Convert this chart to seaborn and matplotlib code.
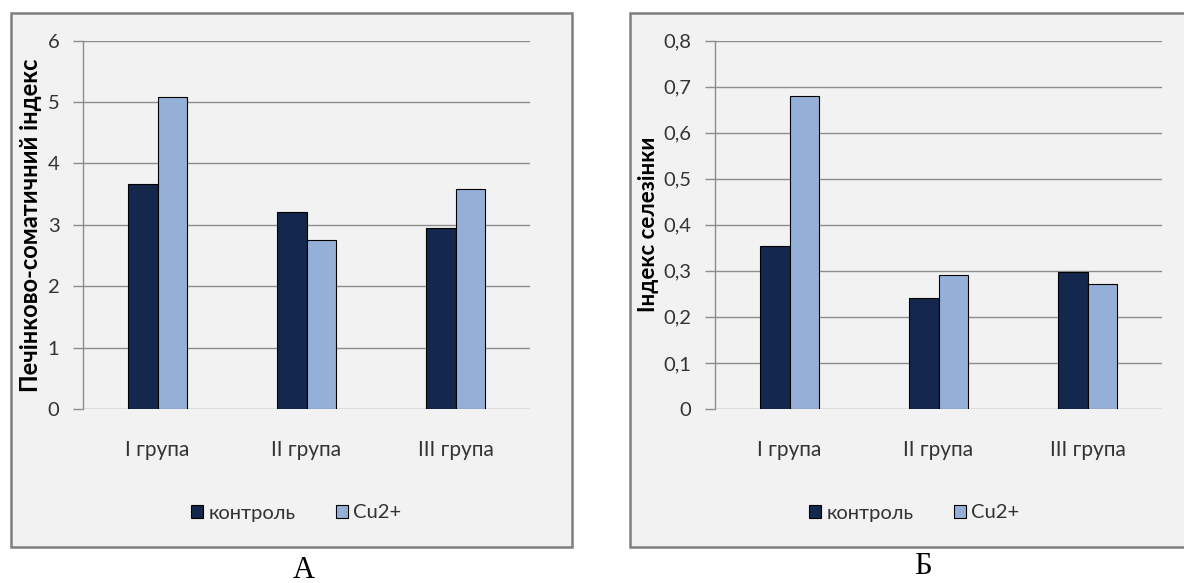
import matplotlib
matplotlib.use("Agg")
import matplotlib.pyplot as plt
import seaborn as sns
import pandas as pd
from matplotlib.patches import Rectangle

# ---- data ----
groups = ["I група", "II група", "III група"]
series = ["контроль", "Cu2+"]
liver_control = [3.66, 3.21, 2.95]
liver_cu = [5.08, 2.75, 3.58]
spleen_control = [0.353, 0.242, 0.298]
spleen_cu = [0.680, 0.290, 0.272]
liver_ticks = [0, 1, 2, 3, 4, 5, 6]
liver_ticklabels = ["0", "1", "2", "3", "4", "5", "6"]
spleen_ticks = [0, 0.1, 0.2, 0.3, 0.4, 0.5, 0.6, 0.7, 0.8]
spleen_ticklabels = ["0", "0,1", "0,2", "0,3", "0,4", "0,5", "0,6", "0,7", "0,8"]
ylabel_a = "Печінково-соматичний індекс"
ylabel_b = "Індекс селезінки"
panel_a = "А"
panel_b = "Б"

colors = {"контроль": "#13284c", "Cu2+": "#95b0d8"}

sns.set_theme(style="white")
plt.rcParams["font.family"] = ["Lato", "DejaVu Sans"]

W, H = 1184, 583
fig = plt.figure(figsize=(W / 100, H / 100), dpi=100)
fig.patch.set_facecolor("white")


def px_rect(x0, y0, x1, y1):
    return [x0 / W, 1 - y1 / H, (x1 - x0) / W, (y1 - y0) / H]


# panel backgrounds with frames
for (x0, y0, x1, y1) in [(11, 12.5, 572, 547), (630, 12.5, 1195, 547)]:
    fig.patches.append(Rectangle((x0 / W, 1 - y1 / H), (x1 - x0) / W, (y1 - y0) / H,
                                 transform=fig.transFigure, facecolor="#f2f2f2",
                                 edgecolor="#7f7f7f", linewidth=1.8, zorder=-10))


def make_panel(rect, ctrl, cu, ticks, ticklabels, ylabel, ylab_size, ylab_x,
               legend_center, ymax):
    ax = fig.add_axes(px_rect(*rect))
    ax.set_zorder(1)
    df = pd.DataFrame({
        "group": groups * 2,
        "series": [series[0]] * 3 + [series[1]] * 3,
        "value": list(ctrl) + list(cu),
    })
    sns.barplot(data=df, x="group", y="value", hue="series", hue_order=series,
                palette=colors, width=0.4, edgecolor="black", linewidth=0.8,
                saturation=1, ax=ax, zorder=3)
    ax.set_facecolor("none")
    ax.patch.set_alpha(0)
    ax.set_xlim(-0.5, 2.5)
    ax.set_ylim(0, ymax)
    ax.set_yticks(ticks)
    ax.set_yticklabels(ticklabels)
    ax.yaxis.grid(True, color="#8c8c8c", linewidth=1.0, zorder=0)
    ax.set_axisbelow(True)
    for s in ["top", "right", "bottom"]:
        ax.spines[s].set_visible(False)
    ax.spines["left"].set_color("#8c8c8c")
    ax.spines["left"].set_linewidth(1.0)
    ax.tick_params(axis="y", direction="out", length=7, width=1.0, color="#8c8c8c",
                   pad=10, labelsize=14.5, labelcolor="#333333", left=True)
    ax.tick_params(axis="x", length=0, pad=22, labelsize=15, labelcolor="#333333")
    ax.set_xlabel("")
    ax.set_ylabel(ylabel, fontsize=ylab_size, fontweight="bold", color="black")
    ax.yaxis.set_label_coords(ylab_x, 0.5)
    handles, labels = ax.get_legend_handles_labels()
    ax.legend_.remove()
    fig.legend(handles, labels, loc="center",
               bbox_to_anchor=(legend_center[0] / W, 1 - legend_center[1] / H),
               ncol=2, frameon=False, fontsize=14.5, handlelength=0.6, handleheight=0.6,
               handletextpad=0.25, columnspacing=2.0, labelcolor="#333333")
    return ax


ax_a = make_panel((83, 40.5, 530, 409), liver_control, liver_cu, liver_ticks,
                  liver_ticklabels, ylabel_a, 17, (42 - 83) / 447, (296, 513), 6)
ax_b = make_panel((715, 40.5, 1162, 409), spleen_control, spleen_cu, spleen_ticks,
                  spleen_ticklabels, ylabel_b, 16, (659 - 715) / 447, (914, 513), 0.8)

fig.text(304 / W, 1 - 570 / H, panel_a, ha="center", va="center", fontsize=22,
         family=["Liberation Serif", "DejaVu Serif"], color="black")
fig.text(923 / W, 1 - 567 / H, panel_b, ha="center", va="center", fontsize=22,
         family=["Liberation Serif", "DejaVu Serif"], color="black")

fig.savefig("out.png", dpi=100)
